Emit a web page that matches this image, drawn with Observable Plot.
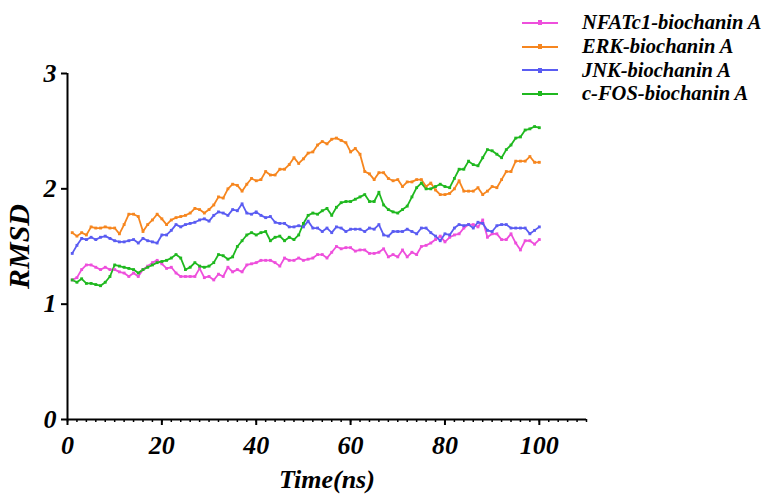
<!DOCTYPE html>
<html>
<head>
<meta charset="utf-8">
<script src="https://cdn.jsdelivr.net/npm/d3@7"></script>
<script src="https://cdn.jsdelivr.net/npm/@observablehq/plot@0.6"></script>
<style>
  html, body { margin: 0; padding: 0; background: #fff; }
  #wrap { position: relative; width: 769px; height: 494px; }
  #legend { position: absolute; left: 522px; top: 11px; font-family: "Liberation Serif", serif; font-weight: bold; font-style: italic; font-size: 20.5px; color: #000; }
  .row { display: flex; align-items: center; height: 23.7px; }
  .sw { position: relative; width: 36px; height: 2px; margin-right: 24px; }
  .sw i { position: absolute; left: 16px; top: -1.5px; width: 4px; height: 5px; }
</style>
</head>
<body>
<div id="wrap"><div id="legend"></div></div>
<script>
const time = Array.from({length: 100}, (_, i) => i + 1);

const seriesNames = ["NFATc1-biochanin A", "ERK-biochanin A", "JNK-biochanin A", "c-FOS-biochanin A"];
const seriesColors = ["#ee4fdc", "#f6861f", "#5a5cf2", "#1fb81f"];

const nfatc1 = [1.21,1.23,1.30,1.34,1.34,1.32,1.30,1.32,1.30,1.30,1.28,1.27,1.24,1.27,1.24,1.30,1.33,1.36,1.38,1.35,
  1.31,1.32,1.27,1.24,1.24,1.24,1.24,1.31,1.23,1.24,1.21,1.26,1.24,1.32,1.28,1.30,1.28,1.34,1.35,1.36,
  1.38,1.38,1.38,1.36,1.33,1.40,1.38,1.38,1.40,1.38,1.39,1.40,1.43,1.43,1.40,1.45,1.50,1.48,1.49,1.49,
  1.46,1.47,1.47,1.44,1.44,1.45,1.48,1.41,1.43,1.41,1.47,1.41,1.45,1.43,1.50,1.51,1.53,1.56,1.59,1.54,
  1.58,1.60,1.61,1.66,1.69,1.69,1.67,1.73,1.58,1.61,1.61,1.56,1.56,1.61,1.53,1.47,1.55,1.55,1.52,1.56];

const erk = [1.62,1.59,1.62,1.60,1.67,1.66,1.66,1.67,1.66,1.66,1.61,1.69,1.78,1.78,1.76,1.63,1.69,1.73,1.78,1.74,
  1.69,1.73,1.75,1.76,1.77,1.79,1.83,1.82,1.79,1.82,1.86,1.93,1.92,2.00,2.04,2.03,1.98,2.04,2.09,2.07,
  2.08,2.15,2.12,2.12,2.17,2.17,2.21,2.27,2.22,2.26,2.31,2.32,2.38,2.41,2.39,2.43,2.44,2.42,2.40,2.32,
  2.35,2.30,2.15,2.13,2.08,2.14,2.14,2.09,2.07,2.08,2.02,2.06,2.06,2.08,2.08,2.02,2.05,1.99,1.95,1.95,
  1.96,2.00,2.07,1.98,1.98,1.98,2.01,1.95,1.98,2.02,2.01,2.08,2.15,2.15,2.24,2.24,2.24,2.28,2.23,2.23];

const jnk = [1.44,1.51,1.57,1.56,1.58,1.56,1.58,1.59,1.57,1.55,1.54,1.54,1.55,1.56,1.53,1.57,1.55,1.54,1.53,1.60,
  1.60,1.64,1.69,1.67,1.69,1.70,1.71,1.73,1.74,1.72,1.77,1.80,1.79,1.77,1.82,1.81,1.87,1.79,1.78,1.80,
  1.77,1.75,1.76,1.71,1.70,1.70,1.67,1.67,1.68,1.67,1.72,1.66,1.66,1.63,1.66,1.62,1.67,1.66,1.63,1.65,
  1.65,1.65,1.63,1.66,1.65,1.69,1.60,1.59,1.63,1.63,1.63,1.65,1.63,1.61,1.66,1.66,1.62,1.59,1.55,1.61,
  1.60,1.66,1.69,1.68,1.69,1.66,1.71,1.70,1.64,1.63,1.68,1.69,1.69,1.66,1.66,1.66,1.66,1.61,1.64,1.67];

const cfos = [1.21,1.19,1.22,1.18,1.18,1.17,1.16,1.19,1.24,1.34,1.33,1.32,1.31,1.30,1.27,1.30,1.32,1.34,1.36,1.37,
  1.38,1.40,1.43,1.40,1.30,1.32,1.36,1.33,1.32,1.33,1.36,1.43,1.42,1.39,1.41,1.50,1.55,1.60,1.62,1.60,
  1.62,1.63,1.55,1.58,1.59,1.55,1.58,1.56,1.60,1.70,1.77,1.79,1.78,1.81,1.83,1.77,1.84,1.88,1.89,1.89,
  1.91,1.93,1.95,1.89,1.89,1.97,1.86,1.82,1.80,1.79,1.82,1.85,1.93,2.01,2.05,2.00,2.00,2.02,2.04,2.02,
  2.01,2.09,2.17,2.17,2.24,2.21,2.20,2.27,2.34,2.33,2.30,2.27,2.34,2.38,2.44,2.45,2.51,2.52,2.54,2.53];

const xTicks = [0, 20, 40, 60, 80, 100];
const xMinorTicks = d3.range(0, 111, 2);
const yTicks = [0, 1, 2, 3];

const allSeries = [nfatc1, erk, jnk, cfos];
const rows = [];
allSeries.forEach((vals, k) => vals.forEach((v, i) => rows.push({series: seriesNames[k], time: time[i], rmsd: v})));

const font = "'Liberation Serif', 'Times New Roman', serif";

const chart = Plot.plot({
  width: 769,
  height: 494,
  marginLeft: 67,
  marginRight: 183,
  marginTop: 73,
  marginBottom: 75,
  style: {fontFamily: font, fontSize: "26px", fontWeight: "bold", fontStyle: "italic", color: "#000", background: "#fff"},
  x: {domain: [0, 110]},
  y: {domain: [0, 3]},
  color: {domain: seriesNames, range: seriesColors},
  marks: [
    Plot.axisX({ticks: xMinorTicks, tickSize: 3, text: null, label: null, strokeWidth: 1.5}),
    Plot.axisX({ticks: xTicks, tickSize: 6, tickPadding: 10, tickFormat: "d", strokeWidth: 2, label: "Time(ns)", labelAnchor: "center", labelArrow: "none", labelOffset: 68}),
    Plot.axisY({ticks: yTicks, tickSize: 6, tickPadding: 5, tickFormat: "d", strokeWidth: 2, label: null}),
    Plot.axisY({ticks: [], tickSize: 0, text: null, label: "RMSD", fontSize: 30, labelAnchor: "center", labelArrow: "none", labelOffset: 60}),
    Plot.ruleY([0], {stroke: "#000", strokeWidth: 2}),
    Plot.ruleX([0], {stroke: "#000", strokeWidth: 2}),
    Plot.line(rows, {x: "time", y: "rmsd", z: "series", stroke: "series", strokeWidth: 1.8}),
    Plot.dot(rows, {x: "time", y: "rmsd", fill: "series", symbol: "square", r: 1.6})
  ]
});
document.getElementById("wrap").prepend(chart);

const legend = document.getElementById("legend");
seriesNames.forEach((name, k) => {
  const row = document.createElement("div");
  row.className = "row";
  const sw = document.createElement("span");
  sw.className = "sw";
  sw.style.background = seriesColors[k];
  const dot = document.createElement("i");
  dot.style.background = seriesColors[k];
  sw.appendChild(dot);
  const t = document.createElement("span");
  t.textContent = name;
  row.appendChild(sw);
  row.appendChild(t);
  legend.appendChild(row);
});
</script>
</body>
</html>
